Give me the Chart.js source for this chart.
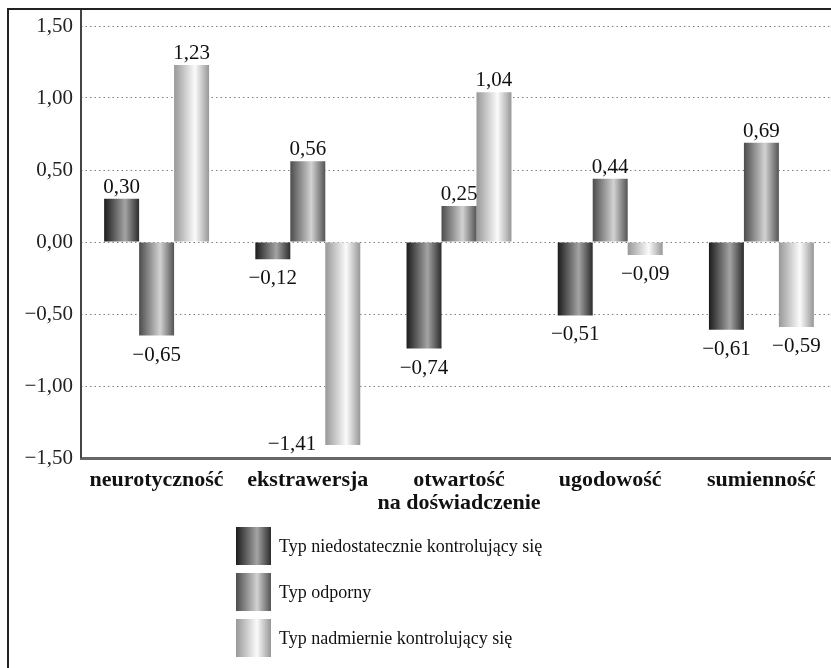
<!DOCTYPE html>
<html lang="pl">
<head>
<meta charset="UTF-8">
<title>Typy osobowości – Wielka Piątka</title>
<script src="https://cdn.jsdelivr.net/npm/chart.js"></script>
<style>
  html, body { margin: 0; padding: 0; background: #fff; overflow: hidden; width: 831px; height: 668px; }
  #wrap { position: relative; width: 831px; height: 668px; overflow: hidden; }
  #c { position: absolute; left: 0; top: 0; }
  #frame { position: absolute; left: 7px; top: 8px; width: 900px; height: 700px;
           border-top: 2px solid #222; border-left: 2px solid #222; pointer-events: none; }
  #legend { position: absolute; left: 236px; top: 527px; font-family: "Liberation Serif", serif;
            font-size: 18px; color: #111; }
  .row { display: flex; align-items: center; height: 38px; margin-bottom: 8px; }
  .box { width: 35px; height: 38px; margin-right: 8px; }
</style>
</head>
<body>
<div id="wrap">
  <canvas id="c" width="860" height="668"></canvas>
  <div id="frame"></div>
  <div id="legend"></div>
</div>

<script>
  // data
  const categories = ['neurotyczność', 'ekstrawersja', ['otwartość', 'na doświadczenie'], 'ugodowość', 'sumienność'];
  const seriesNames = ['Typ niedostatecznie kontrolujący się', 'Typ odporny', 'Typ nadmiernie kontrolujący się'];
  const underControlled = [0.30, -0.12, -0.74, -0.51, -0.61];
  const resilient = [-0.65, 0.56, 0.25, 0.44, 0.69];
  const overControlled = [1.23, -1.41, 1.04, -0.09, -0.59];
  const yTicks = [-1.5, -1.0, -0.5, 0, 0.5, 1.0, 1.5];

  // cylinder shading per series: [offset, colour]
  const shades = [
    [[0, '#1c1c1c'], [0.6, '#a4a4a4'], [1, '#2c2c2c']],
    [[0, '#4c4c4c'], [0.6, '#d2d2d2'], [1, '#545454']],
    [[0, '#989898'], [0.6, '#fbfbfb'], [1, '#979797']]
  ];

  const fmt = v => v.toFixed(2).replace('.', ',').replace('-', '\u2212');

  // legend
  const legend = document.getElementById('legend');
  seriesNames.forEach((name, i) => {
    const stops = shades[i].map(([p, c]) => c + ' ' + (p * 100) + '%').join(', ');
    legend.insertAdjacentHTML('beforeend',
      `<div class="row"><div class="box" style="background:linear-gradient(to right, ${stops})"></div>${name}</div>`);
  });

  const shadePlugin = {
    id: 'shade',
    beforeDatasetsDraw(chart) {
      const ctx = chart.ctx;
      chart.data.datasets.forEach((ds, i) => {
        chart.getDatasetMeta(i).data.forEach(bar => {
          const g = ctx.createLinearGradient(bar.x - bar.width / 2, 0, bar.x + bar.width / 2, 0);
          shades[i].forEach(([p, c]) => g.addColorStop(p, c));
          bar.options = Object.assign({}, bar.options, { backgroundColor: g });
        });
      });
    }
  };

  const valueLabels = {
    id: 'valueLabels',
    afterDatasetsDraw(chart) {
      const { ctx, chartArea } = chart;
      ctx.save();
      ctx.font = '21px "Liberation Serif"';
      ctx.fillStyle = '#111';
      ctx.textBaseline = 'alphabetic';
      chart.data.datasets.forEach((ds, i) => {
        chart.getDatasetMeta(i).data.forEach((bar, j) => {
          const v = ds.data[j];
          const t = fmt(v);
          if (v >= 0) {
            ctx.textAlign = 'center';
            ctx.fillText(t, bar.x, bar.y - 6);
          } else if (bar.y + 25 < chartArea.bottom) {
            ctx.textAlign = 'center';
            ctx.fillText(t, bar.x, bar.y + 25);
          } else {
            // no room under the bar: put it beside the bar end
            ctx.textAlign = 'right';
            ctx.fillText(t, bar.x - bar.width / 2 - 9, bar.y + 5);
          }
        });
      });
      ctx.restore();
    }
  };

  // vertical axis line, running up to the frame
  const yLine = {
    id: 'yLine',
    afterDraw(chart) {
      const { ctx, chartArea } = chart;
      const top = document.getElementById('frame').offsetTop;
      ctx.save();
      ctx.strokeStyle = '#444';
      ctx.lineWidth = 2;
      ctx.beginPath();
      ctx.moveTo(chartArea.left, top);
      ctx.lineTo(chartArea.left, chartArea.bottom);
      ctx.stroke();
      ctx.restore();
    }
  };

  new Chart(document.getElementById('c'), {
    type: 'bar',
    data: {
      labels: categories,
      datasets: [
        { label: seriesNames[0], data: underControlled, backgroundColor: '#555' },
        { label: seriesNames[1], data: resilient, backgroundColor: '#888' },
        { label: seriesNames[2], data: overControlled, backgroundColor: '#ccc' }
      ]
    },
    options: {
      responsive: false,
      animation: false,
      layout: { padding: { top: 26, right: 23, bottom: 0, left: 0 } },
      categoryPercentage: 0.694,
      barPercentage: 1,
      plugins: { legend: { display: false }, tooltip: { enabled: false } },
      scales: {
        x: {
          grid: { display: false },
          border: { display: true, color: '#666', width: 3 },
          ticks: {
            color: '#111',
            padding: 3,
            maxRotation: 0,
            autoSkip: false,
            font: { family: 'Liberation Serif', size: 22, weight: 'bold', lineHeight: 1.05 }
          },
          afterFit(scale) { scale.height = 210; }
        },
        y: {
          min: yTicks[0],
          max: yTicks[yTicks.length - 1],
          afterBuildTicks(scale) { scale.ticks = yTicks.map(v => ({ value: v })); },
          grid: { color: '#808080', lineWidth: 1, drawTicks: false },
          border: { display: false, dash: [1.5, 3] },
          ticks: {
            color: '#222',
            padding: 8,
            font: { family: 'Liberation Serif', size: 21 },
            callback: v => fmt(v)
          },
          afterFit(scale) { scale.width = 81; }
        }
      }
    },
    plugins: [shadePlugin, valueLabels, yLine]
  });
</script>
</body>
</html>
